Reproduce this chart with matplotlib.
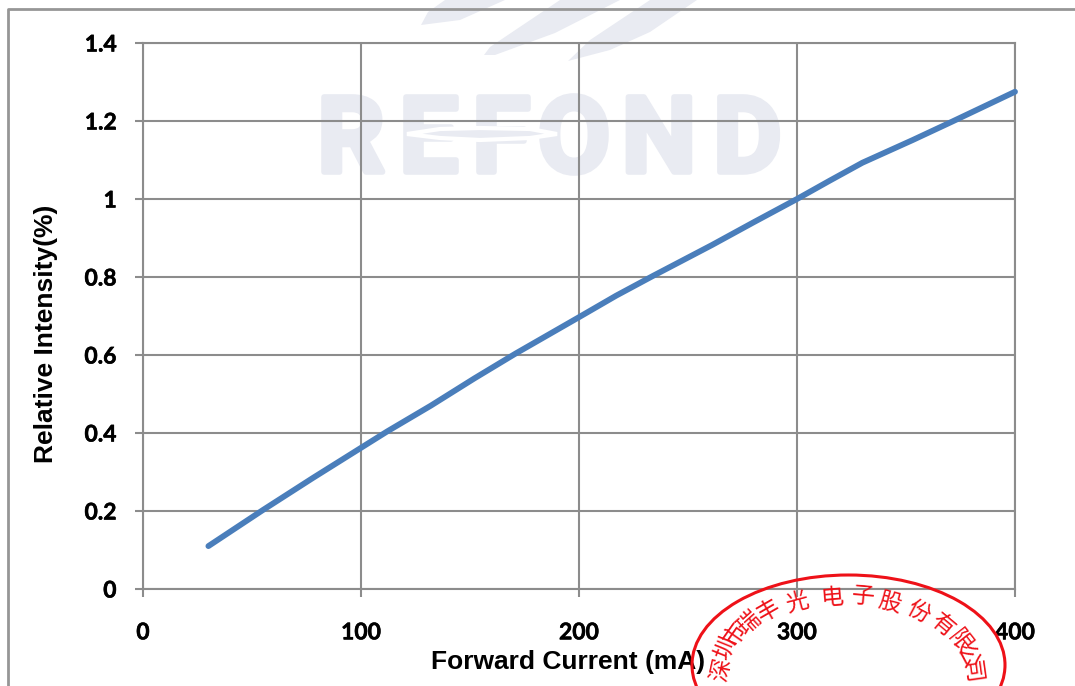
import matplotlib
matplotlib.use("Agg")
import matplotlib.pyplot as plt
import matplotlib.patheffects as pe
from matplotlib.patches import Ellipse, Polygon
from matplotlib.lines import Line2D
from matplotlib.transforms import Affine2D

# values
current = [30, 55, 78, 100, 112, 132, 152, 171, 200, 217, 234, 261, 280, 300, 315, 330, 353, 371, 400]
intensity = [0.11, 0.2025, 0.285, 0.362, 0.404, 0.47, 0.54, 0.604, 0.697, 0.752, 0.803, 0.882, 0.94, 1.0, 1.047, 1.093, 1.151, 1.198, 1.275]
x_ticks = [0, 100, 200, 300, 400]
y_ticks = [0, 0.2, 0.4, 0.6, 0.8, 1, 1.2, 1.4]
y_tick_labels = ["0", "0.2", "0.4", "0.6", "0.8", "1", "1.2", "1.4"]
x_label = "Forward Current (mA)"
y_label = "Relative Intensity(%)"
logo_letters = ["R", "E", "F", "O", "N", "D"]
stamp_chars = list("深圳市瑞丰光电子股份有限公司")

W, H = 1075, 686
GRAY = "#8c8c8c"
LOGO = "#e9ebf2"
RED = "#ee1118"

fig = plt.figure(figsize=(W / 100, H / 100), dpi=100)
ax = fig.add_axes([143 / W, (H - 589) / H, 872 / W, 546 / H])
ax.patch.set_visible(False)

# pixel coordinates, y down like in the picture
px = Affine2D().scale(1, -1).translate(0, H)

# frame around the chart
fig.add_artist(Line2D([8, 8, W], [H, 9, 9], transform=px, color="#969696", lw=2, zorder=-1))

# watermark
logo_x = [319, 402, 475, 542, 622, 715]
logo_w = [64, 53, 52, 64, 74, 65]
for ch, lx, lw_ in zip(logo_letters, logo_x, logo_w):
    fig.text(lx + lw_ / 2, 172, ch, transform=px, ha="center", va="baseline",
             fontsize=76, family="Roboto", weight="bold", color=LOGO, zorder=-3,
             path_effects=[pe.withStroke(linewidth=4, foreground=LOGO)])
fig.add_artist(Polygon([[407, 134], [440, 129], [480, 128], [530, 129], [557, 134], [530, 138], [480, 140], [440, 138]],
                       closed=True, transform=px, facecolor=LOGO, edgecolor="white", lw=3, zorder=-1))
feathers = [
    [[421, 25], [428, 12], [445, 0], [505, 0], [460, 20]],
    [[484, 55], [490, 47], [560, 0], [620, 0], [555, 33], [495, 55]],
    [[568, 61], [590, 40], [650, 0], [697, 0], [650, 32], [610, 50]],
]
for f in feathers:
    fig.add_artist(Polygon(f, closed=True, transform=px, facecolor=LOGO, edgecolor="none", zorder=-2))

ax.plot(current, intensity, color="#4a7ebb", lw=4.2, solid_capstyle="round", solid_joinstyle="round",
        clip_on=False, zorder=3)

ax.set_xlim(0, 400)
ax.set_ylim(0, 1.4)
ax.set_xticks(x_ticks)
ax.set_yticks(y_ticks)
ax.set_yticklabels(y_tick_labels)
ax.grid(True, color=GRAY, lw=1.5)
ax.set_axisbelow(True)
ax.tick_params(length=6, width=1.5, color=GRAY, labelsize=16.5)
ax.tick_params(axis="x", pad=18)
ax.tick_params(axis="y", pad=13)
for label in ax.get_xticklabels() + ax.get_yticklabels():
    label.set_family("Lato")
    label.set_weight("bold")
    label.set_path_effects([pe.withStroke(linewidth=0.4, foreground="black")])
for s in ax.spines.values():
    s.set_color(GRAY)
    s.set_linewidth(1.5)

fig.text(568, 662, x_label, transform=px, ha="center", va="center",
         family="Liberation Sans", weight="bold", fontsize=19)
fig.text(46, 334, y_label, transform=px, ha="center", va="center", rotation=90,
         family="Liberation Sans", weight="bold", fontsize=19)

# company stamp
fig.add_artist(Ellipse((848.5, 665), 313, 180, transform=px, fill=False, edgecolor=RED, lw=2.2, zorder=5))
stamp_x = [721, 726, 735, 749, 768, 797, 832, 863, 890, 918, 942, 960, 967, 972]
stamp_y = [670, 648, 635, 623, 611, 603, 598, 597, 603, 612, 625, 642, 657, 672]
stamp_rot = [78, 68, 55, 42, 30, 15, 5, -5, -15, -28, -40, -52, -65, -82]
for ch, sx, sy, r in zip(stamp_chars, stamp_x, stamp_y, stamp_rot):
    fig.text(sx, sy, ch, transform=px, ha="center", va="center", rotation=r,
             family="Noto Sans CJK SC", fontsize=16.5, color=RED, zorder=6)

fig.savefig("out.png", dpi=100)
